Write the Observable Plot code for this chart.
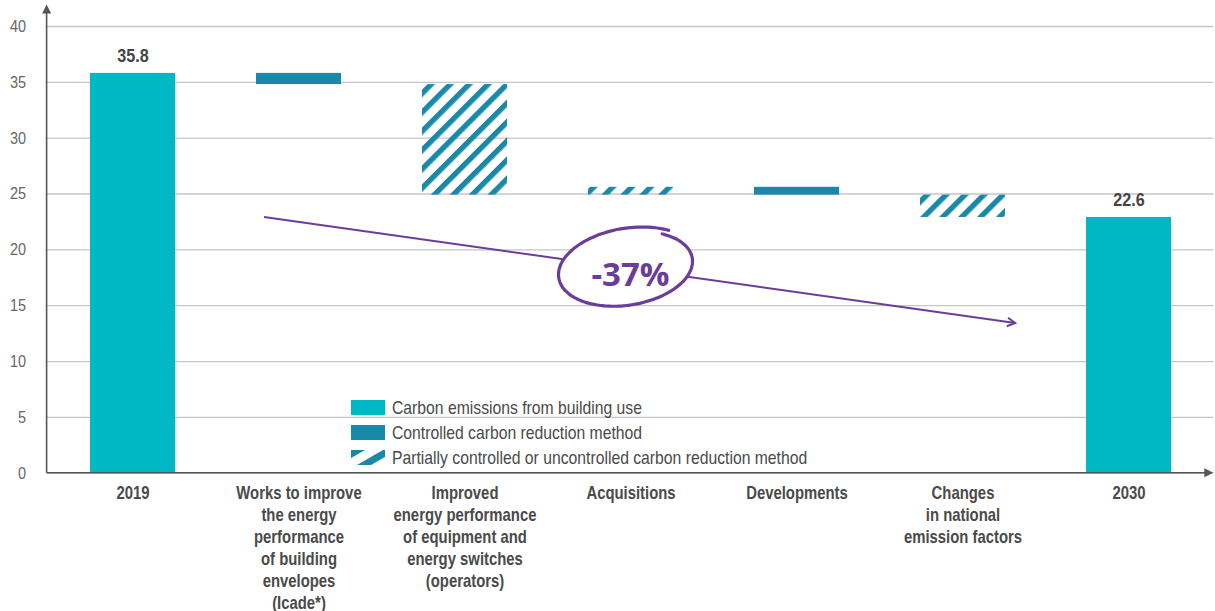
<!DOCTYPE html>
<html><head><meta charset="utf-8">
<script src="https://cdn.jsdelivr.net/npm/d3@7"></script>
<script src="https://cdn.jsdelivr.net/npm/@observablehq/plot@0.6"></script>
<style>
body{margin:0;background:#fff;}
#wrap{position:relative;width:1215px;height:611px;}
#legend{position:absolute;left:351px;top:395px;font-family:"Liberation Sans",Arial,sans-serif;font-size:18.5px;color:#4a4a4a;}
#legend .row{display:flex;align-items:center;height:25px;}
#legend svg{margin-right:7px;display:block;flex:none;}
#legend span{display:inline-block;transform:scaleX(0.85);transform-origin:left center;white-space:nowrap;}
</style></head><body><div id="wrap"><div id="legend"></div></div>
<script>
const FONT = '"Liberation Sans",Arial,sans-serif';
const TEAL = "#00b7c4";
const BLUE = "#1a88a9";
const PURPLE = "#6a3d9d";
const SQUEEZE = 0.85;

// ---- data ----
const categories = ["2019", "Works", "Improved", "Acquisitions", "Developments", "Changes", "2030"];
const categoryLabels = [
  "2019",
  "Works to improve\nthe energy\nperformance\nof building\nenvelopes\n(Icade*)",
  "Improved\nenergy performance\nof equipment and\nenergy switches\n(operators)",
  "Acquisitions",
  "Developments",
  "Changes\nin national\nemission factors",
  "2030"
];
const barStart = [0, 35.8, 34.8, 24.9, 24.9, 24.9, 0];
const barEnd   = [35.8, 34.8, 24.9, 25.6, 25.6, 22.9, 22.9];
const barType  = ["total", "controlled", "partial", "partial", "controlled", "partial", "total"];
const valueLabels = ["35.8", "", "", "", "", "", "22.6"];
const yTicks = [0, 5, 10, 15, 20, 25, 30, 35, 40];
const legendLabels = ["Carbon emissions from building use", "Controlled carbon reduction method", "Partially controlled or uncontrolled carbon reduction method"];
const legendTypes = ["total", "controlled", "partial"];
const trendFrom = 22.9, trendTo = 13.4;
const trendLabel = "-37%";

const rows = categories.map((c, i) => ({cat: c, start: barStart[i], end: barEnd[i], type: barType[i], label: valueLabels[i]}));
const labelMap = new Map(categories.map((c, i) => [c, categoryLabels[i]]));

const chart = Plot.plot({
  width: 1215, height: 611,
  marginLeft: 46.6, marginRight: 1.7, marginTop: 26, marginBottom: 138.3,
  style: {fontFamily: FONT, background: "transparent", overflow: "visible"},
  x: {domain: categories, paddingInner: 0.49, paddingOuter: 0.245, label: null},
  y: {domain: [0, 40], label: null},
  marks: [
    Plot.gridY(yTicks, {stroke: "#c6c6c6", strokeOpacity: 1, strokeWidth: 1.3}),
    Plot.axisY(yTicks, {tickSize: 0, tickPadding: 21, fontSize: 17, color: "#666", label: null, className: "sq"}),
    Plot.axisX({tickSize: 0, tickPadding: 10, fontSize: 17.5, fontWeight: "bold", color: "#4a4a4a", lineHeight: 1.26, tickFormat: d => labelMap.get(d), label: null, className: "sq"}),
    Plot.barY(rows.filter(d => d.type === "total"), {x: "cat", y1: "start", y2: "end", fill: TEAL}),
    Plot.barY(rows.filter(d => d.type === "controlled"), {x: "cat", y1: "start", y2: "end", fill: BLUE}),
    Plot.barY(rows.filter(d => d.type === "partial"), {x: "cat", y1: "start", y2: "end", fill: "url(#hatch)"}),
    Plot.text(rows.filter(d => d.label), {x: "cat", y: "end", text: "label", dy: -11, lineAnchor: "bottom", fontWeight: "bold", fontSize: 19, fill: "#444", className: "sq"})
  ]
});
document.getElementById("wrap").prepend(chart);

const svg = d3.select(chart);
// condensed look: squeeze text horizontally around its anchor
svg.selectAll("g.sq text, .sq text").each(function() {
  const t = this.getAttribute("transform") || "";
  this.setAttribute("transform", t + ` scale(${SQUEEZE},1)`);
});

// hatch pattern
const defs = svg.insert("defs", ":first-child");
const pat = defs.append("pattern").attr("id", "hatch").attr("patternUnits", "userSpaceOnUse")
  .attr("width", 13.4).attr("height", 10).attr("patternTransform", "rotate(45)");
pat.append("rect").attr("x", 0).attr("y", 0).attr("width", 5.4).attr("height", 10).attr("fill", BLUE);

const xs = chart.scale("x"), ys = chart.scale("y");
const bw = xs.bandwidth;
const X = c => xs.apply(c);
const Y = v => ys.apply(v);
const left = 46.6, right = 1215 - 1.7;

// axes with arrows
const ax = svg.append("g").attr("stroke", "#555").attr("fill", "#555");
ax.append("line").attr("x1", left).attr("x2", right - 6).attr("y1", Y(0)).attr("y2", Y(0)).attr("stroke-width", 1.6);
ax.append("path").attr("d", `M${right},${Y(0)} L${right - 9},${Y(0) - 4.5} L${right - 9},${Y(0) + 4.5} Z`).attr("stroke", "none");
ax.append("line").attr("x1", left).attr("x2", left).attr("y1", Y(0)).attr("y2", Y(41.2)).attr("stroke-width", 1.6);
ax.append("path").attr("d", `M${left},${Y(41.2) - 8} L${left - 4.5},${Y(41.2) + 1} L${left + 4.5},${Y(41.2) + 1} Z`).attr("stroke", "none");

// trend arrow
const tx1 = X("Works") + bw * 0.094, ty1 = Y(trendFrom);
const tx2 = X("Changes") + bw * 1.12, ty2 = Y(trendTo);
const tg = svg.append("g").attr("stroke", PURPLE).attr("fill", "none").attr("stroke-width", 2);
tg.append("line").attr("x1", tx1).attr("y1", ty1).attr("x2", tx2).attr("y2", ty2);
const ang = Math.atan2(ty2 - ty1, tx2 - tx1);
const hl = 9;
tg.append("path").attr("d",
  `M${tx2 - hl * Math.cos(ang - 0.5)},${ty2 - hl * Math.sin(ang - 0.5)} L${tx2},${ty2} L${tx2 - hl * Math.cos(ang + 0.5)},${ty2 - hl * Math.sin(ang + 0.5)}`);

// hand-drawn ellipse
const cx = X("Acquisitions") + bw / 2 - 3, cy = Y(18.35);
const rx = 67, ry = 37, rot = -9 * Math.PI / 180;
const pts = [];
const a0 = -50 * Math.PI / 180, a1 = a0 - 362 * Math.PI / 180;
for (let i = 0; i <= 120; i++) {
  const t = i / 120;
  const a = a0 + (a1 - a0) * t;
  const s = 1.08 - 0.12 * t;
  const px = rx * s * Math.cos(a), py = ry * s * Math.sin(a);
  pts.push([cx + px * Math.cos(rot) - py * Math.sin(rot), cy + px * Math.sin(rot) + py * Math.cos(rot)]);
}
svg.append("path").attr("d", d3.line().curve(d3.curveBasis)(pts)).attr("fill", "#fff").attr("stroke", PURPLE)
  .attr("stroke-width", 3.2).attr("stroke-linecap", "round");
svg.append("text").attr("x", X("Acquisitions") + bw / 2).attr("y", Y(17.8)).attr("text-anchor", "middle")
  .attr("dominant-baseline", "central").attr("font-family", '"Open Sans",sans-serif').attr("font-weight", 700)
  .attr("font-size", 33).attr("fill", PURPLE).text(trendLabel);

// legend
const legend = d3.select("#legend");
legendLabels.forEach((lab, i) => {
  const row = legend.append("div").attr("class", "row");
  const s = row.append("svg").attr("width", 34).attr("height", 15);
  if (legendTypes[i] === "partial") {
    const p = s.append("defs").append("pattern").attr("id", "lhatch").attr("patternUnits", "userSpaceOnUse")
      .attr("width", 16).attr("height", 10).attr("patternTransform", "rotate(60)");
    p.append("rect").attr("width", 7).attr("height", 10).attr("fill", BLUE);
    s.append("rect").attr("width", 34).attr("height", 15).attr("fill", "url(#lhatch)");
  } else {
    s.append("rect").attr("width", 34).attr("height", 15).attr("fill", legendTypes[i] === "total" ? TEAL : BLUE);
  }
  row.append("span").text(lab);
});
</script></body></html>
